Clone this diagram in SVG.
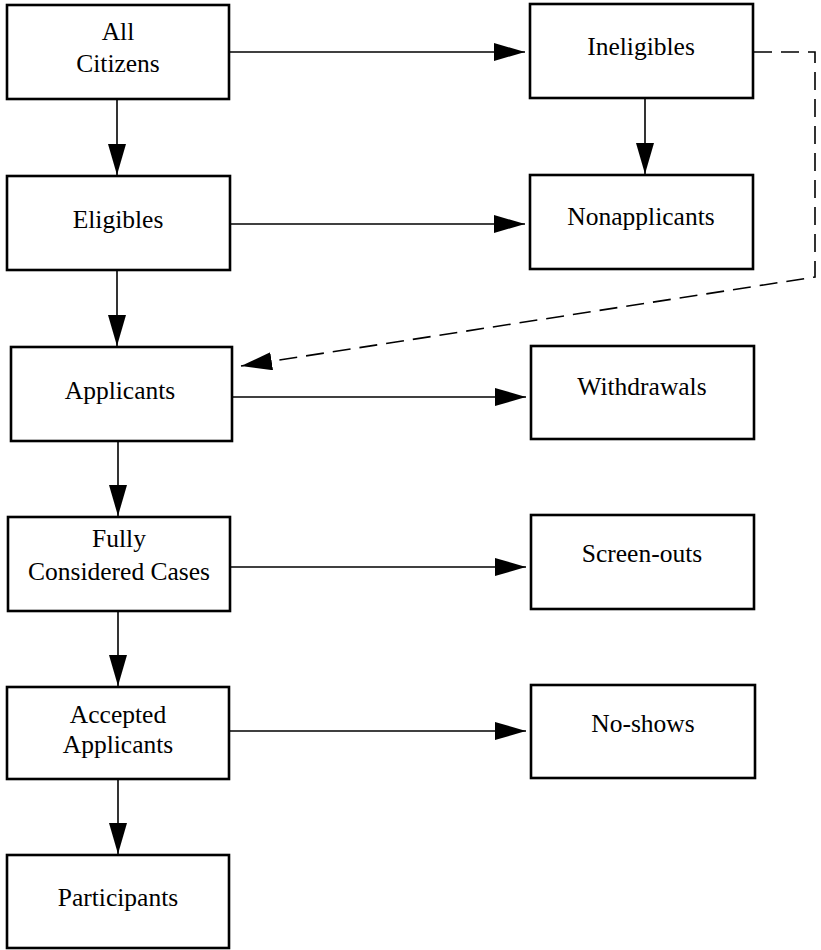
<svg xmlns="http://www.w3.org/2000/svg" width="821" height="950" viewBox="0 0 821 950">
<defs>
<marker id="ah" markerUnits="userSpaceOnUse" markerWidth="33" markerHeight="19" refX="31" refY="9" orient="auto">
<path d="M0,0 L31,9 L0,18 z" fill="#000"/>
</marker>
<style>
.box{fill:#fff;stroke:#000;stroke-width:2.6}
.t{font-family:"Liberation Serif","Times New Roman",serif;font-size:25.5px;fill:#000;text-anchor:middle}
.c{stroke:#000;stroke-width:1.6;fill:none}
.d{stroke:#000;stroke-width:1.6;fill:none;stroke-dasharray:18 9}
</style>
</defs>
<rect width="821" height="950" fill="#fff"/>
<g id="connectors">
<line class="c" x1="229" y1="52" x2="525" y2="52" marker-end="url(#ah)"/>
<line class="c" x1="230" y1="224" x2="525" y2="224" marker-end="url(#ah)"/>
<line class="c" x1="232" y1="397" x2="526" y2="397" marker-end="url(#ah)"/>
<line class="c" x1="230" y1="567" x2="526" y2="567" marker-end="url(#ah)"/>
<line class="c" x1="229" y1="731" x2="526" y2="731" marker-end="url(#ah)"/>
<line class="c" x1="117" y1="99" x2="117" y2="175" marker-end="url(#ah)"/>
<line class="c" x1="117" y1="270" x2="117" y2="346" marker-end="url(#ah)"/>
<line class="c" x1="118" y1="441" x2="118" y2="516" marker-end="url(#ah)"/>
<line class="c" x1="118" y1="611" x2="118" y2="686" marker-end="url(#ah)"/>
<line class="c" x1="118" y1="779" x2="118" y2="854" marker-end="url(#ah)"/>
<line class="c" x1="645" y1="98" x2="645" y2="174" marker-end="url(#ah)"/>
<polyline class="d" points="754,52 815,52 815,277 241,366" marker-end="url(#ah)"/>
</g>
<g id="all-citizens"><rect class="box" x="7" y="5" width="222" height="94"/><text class="t" x="118" y="40">All</text><text class="t" x="118" y="72">Citizens</text></g>
<g id="eligibles"><rect class="box" x="7" y="176" width="223" height="94"/><text class="t" x="118" y="228">Eligibles</text></g>
<g id="applicants"><rect class="box" x="11" y="347" width="221" height="94"/><text class="t" x="120" y="399">Applicants</text></g>
<g id="fully-considered"><rect class="box" x="8" y="517" width="222" height="94"/><text class="t" x="119" y="547">Fully</text><text class="t" x="119" y="580">Considered Cases</text></g>
<g id="accepted-applicants"><rect class="box" x="7" y="687" width="222" height="92"/><text class="t" x="118" y="723">Accepted</text><text class="t" x="118" y="753">Applicants</text></g>
<g id="participants"><rect class="box" x="7" y="855" width="222" height="93"/><text class="t" x="118" y="906">Participants</text></g>
<g id="ineligibles"><rect class="box" x="530" y="4" width="223" height="94"/><text class="t" x="641" y="55">Ineligibles</text></g>
<g id="nonapplicants"><rect class="box" x="530" y="175" width="223" height="94"/><text class="t" x="641" y="225">Nonapplicants</text></g>
<g id="withdrawals"><rect class="box" x="531" y="346" width="223" height="93"/><text class="t" x="642" y="395">Withdrawals</text></g>
<g id="screen-outs"><rect class="box" x="531" y="515" width="223" height="94"/><text class="t" x="642" y="562">Screen-outs</text></g>
<g id="no-shows"><rect class="box" x="531" y="685" width="224" height="93"/><text class="t" x="643" y="732">No-shows</text></g>
</svg>
